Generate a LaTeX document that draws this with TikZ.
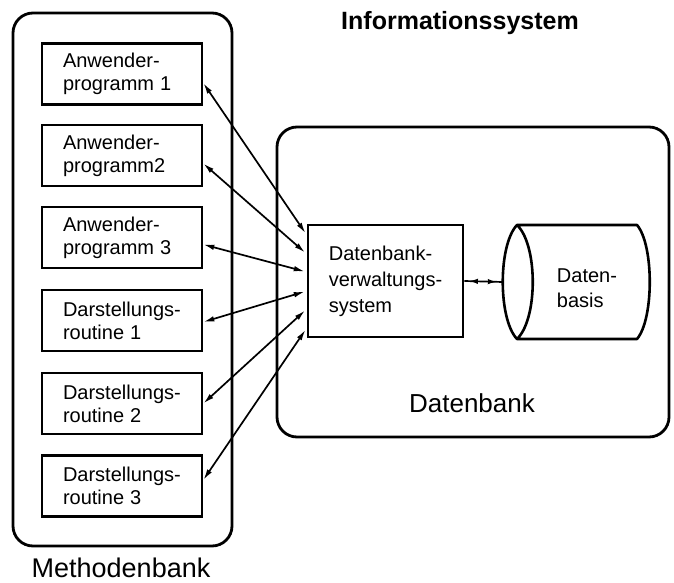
\documentclass[tikz,border=0pt]{standalone}
\usepackage{fontspec}
\setmainfont{Liberation Sans}
\usetikzlibrary{arrows.meta,decorations.markings}
\begin{document}
\begin{tikzpicture}[x=1pt,y=-1pt,
  bigbox/.style={draw, line width=2.8pt, rounded corners=20pt, inner sep=0pt},
  prog/.style={draw, line width=2.6pt, minimum width=160pt, minimum height=61pt,
    text width=118pt, align=left, inner sep=0pt,
    execute at begin node={\fontsize{20}{23}\selectfont\spaceskip=0.3em\relax}},
  link/.style={line width=1.7pt, {Latex[length=11pt,width=5.5pt]}-{Latex[length=11pt,width=5.5pt]}, shorten >=2pt},
  lbl/.style={anchor=base, inner sep=0pt}]
\useasboundingbox (0,0) rectangle (674,583);

% containers
\node[bigbox, minimum width=219pt, minimum height=533pt] (mb) at (122.5,279.5) {};
\node[bigbox, minimum width=392pt, minimum height=310pt] (dbk) at (473,282) {};

% labels
\node[lbl, font=\bfseries\fontsize{25}{30}\selectfont] (isl) at (460,30) {Informationssystem};
\node[lbl, font=\fontsize{27}{32}\selectfont] (mbl) at (121,577) {Methodenbank};
\node[lbl, font=\fontsize{26}{31}\selectfont] (dbl) at (472,412) {Datenbank};

% method boxes
\node[prog] (p1) at (122,74)    {Anwender-\\programm 1};
\node[prog] (p2) at (122,155.5) {Anwender-\\programm2};
\node[prog] (p3) at (122,237.5) {Anwender-\\programm 3};
\node[prog] (d1) at (122,320.5) {Darstellungs-\\routine 1};
\node[prog] (d2) at (122,403.5) {Darstellungs-\\routine 2};
\node[prog] (d3) at (122,486)   {Darstellungs-\\routine 3};

% DBVS
\node[draw, line width=2.6pt, minimum width=155pt, minimum height=112pt, align=left,
  inner sep=0pt, font=\fontsize{20}{26}\selectfont] (dbvs) at (385.5,281)
  {Datenbank-\\verwaltungs-\\system};

% Datenbasis (cylinder)
\node[minimum width=147pt, minimum height=114pt, inner sep=0pt, outer sep=0pt] (db) at (576.5,282) {};
\draw[line width=2.6pt, line join=round]
  (517,225) -- (637,225) .. controls (654,245) and (654,319) .. (637,339)
  -- (517,339) .. controls (498,319) and (498,245) .. (517,225)
  .. controls (538,245) and (538,319) .. (517,339);
\node[align=left, inner sep=0pt, font=\fontsize{20}{25}\selectfont] (dbt) at (587,288) {Daten-\\basis};

% connectors
\draw[link] ([yshift=-9pt]p1.east) -- ([yshift=46pt]dbvs.west);
\draw[link] ([yshift=-8pt]p2.east) -- ([yshift=27pt]dbvs.west);
\draw[link] ([yshift=-7pt]p3.east) -- ([yshift=9pt]dbvs.west);
\draw[link] ([yshift=-1.5pt]d1.east) -- ([yshift=-10pt]dbvs.west);
\draw[link] (d2.east) -- ([yshift=-28pt]dbvs.west);
\draw[link] ([yshift=6pt]d3.east) -- ([yshift=-47pt]dbvs.west);

\draw[line width=1.7pt, postaction={decorate},
  decoration={markings,
    mark=at position 0.12 with {\arrowreversed{Latex[length=9pt,width=5.5pt]}},
    mark=at position 0.84 with {\arrow{Latex[length=9pt,width=5.5pt]}}}]
  (dbvs.east) -- (db.west);
\end{tikzpicture}
\end{document}
